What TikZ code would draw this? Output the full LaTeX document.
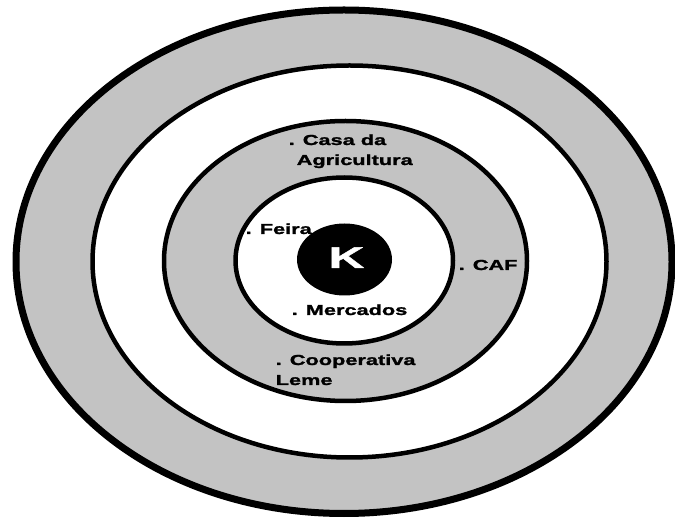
\documentclass[tikz,border=0pt]{standalone}
\usepackage{fontspec}
\newfontfamily\lblfont[FakeStretch=1.5, FakeBold=1.6]{Liberation Sans Bold}
\newfontfamily\kfont[FakeStretch=1.65, FakeBold=1.6]{Liberation Sans Bold}
\definecolor{ringgray}{RGB}{195,195,195}
\begin{document}
\begin{tikzpicture}[x=1pt, y=1pt, line join=round, line cap=round,
	ring/.style={draw=black, line width=4.5pt},
	lbl/.style={font=\lblfont\fontsize{14.5}{20}\selectfont, inner sep=0pt, anchor=base west, align=left}]
	\useasboundingbox (0,0) rectangle (675,517);
	\path
	(344,255.25) coordinate (O1)
	(349.5,255.5) coordinate (O2)
	(345.5,256) coordinate (O3)
	(344.25,256.5) coordinate (O4)
	(344.5,257.5) coordinate (OK)
	;
	\begin{scope}
		\clip (0,0) rectangle (675,517);
		\filldraw[ring, fill=ringgray, line width=7pt] (O1) ellipse (328pt and 251.75pt);
		\filldraw[ring, fill=white] (O2) ellipse (257pt and 196pt);
		\filldraw[ring, fill=ringgray] (O3) ellipse (181.5pt and 140pt);
		\filldraw[ring, fill=white] (O4) ellipse (108.75pt and 83pt);
		\fill[black] (OK) ellipse (47.5pt and 36pt);
	\end{scope}
	% two-line labels sit on the baseline of their last line
	\node[font=\kfont\fontsize{30}{30}\selectfont, text=white, inner sep=0pt, anchor=base] (k) at (346.5,249) {K};
	\node[lbl] (casa) at (288.5,352) {. Casa da\\\hspace*{8pt}Agricultura};
	\node[lbl] (feira) at (245.5,283) {. Feira};
	\node[lbl] (caf) at (458.5,247) {. CAF};
	\node[lbl] (mercados) at (291.5,202) {. Mercados};
	\node[lbl] (coop) at (275.5,132) {. Cooperativa\\Leme};
\end{tikzpicture}
\end{document}
